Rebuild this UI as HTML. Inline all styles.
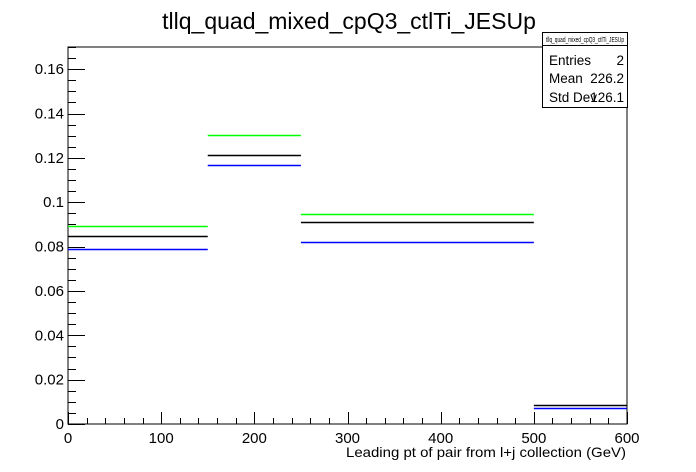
<!DOCTYPE html>
<html><head><meta charset="utf-8"><style>
body{margin:0;background:#fff;}
svg{display:block;font-family:"Liberation Sans",sans-serif;}
</style></head><body>
<svg id="c" width="696" height="472">
<text x="349" y="29" font-size="23" text-anchor="middle">tllq_quad_mixed_cpQ3_ctlTi_JESUp</text>
<rect x="68" y="47" width="559" height="377" fill="none" stroke="#000" stroke-width="1"/>
<g id="axes"></g>
<g id="series"></g>
<text x="346" y="457" font-size="14" textLength="280" lengthAdjust="spacingAndGlyphs">Leading pt of pair from l+j collection (GeV)</text>
<g>
<rect x="542.5" y="32.5" width="85" height="75" fill="#fff" stroke="#000"/>
<line x1="542.5" y1="45.5" x2="627.5" y2="45.5" stroke="#000"/>
<text x="546" y="42" font-size="7" textLength="78" lengthAdjust="spacingAndGlyphs">tllq_quad_mixed_cpQ3_ctlTi_JESUp</text>
<text x="549" y="65" font-size="13.5">Entries</text><text x="624" y="65" font-size="13.5" text-anchor="end">2</text>
<text x="549" y="83" font-size="13.5">Mean</text><text x="624" y="83" font-size="13.5" text-anchor="end">226.2</text>
<text x="549" y="102" font-size="13.5">Std Dev</text><text x="624" y="102" font-size="13.5" text-anchor="end">126.1</text>
</g>
</svg>
<script>
const binEdges=[0,150,250,500,600];
const greenVals=[0.0891,0.1305,0.0945,null];
const blackVals=[0.0850,0.1212,0.0909,0.0086];
const blueVals=[0.0788,0.1167,0.0819,0.0074];
const xTicks=[0,100,200,300,400,500,600];
const yTicks=[0,0.02,0.04,0.06,0.08,0.1,0.12,0.14,0.16];
const yLabels=["0","0.02","0.04","0.06","0.08","0.1","0.12","0.14","0.16"];
const X0=68,X1=627,Y0=424,Y1=47;
const xs=v=>X0+(v-0)/600*(X1-X0);
const ys=v=>Y0-v/0.17*(Y0-Y1);
const NS="http://www.w3.org/2000/svg";
const ax=document.getElementById('axes'),sr=document.getElementById('series');
function ln(p,x1,y1,x2,y2,c,w){const l=document.createElementNS(NS,'line');l.setAttribute('x1',x1);l.setAttribute('y1',y1);l.setAttribute('x2',x2);l.setAttribute('y2',y2);l.setAttribute('stroke',c);l.setAttribute('stroke-width',w||1);p.appendChild(l);return l;}
function tx(p,x,y,s,a){const t=document.createElementNS(NS,'text');t.setAttribute('x',x);t.setAttribute('y',y);t.setAttribute('font-size',15);t.setAttribute('text-anchor',a);t.textContent=s;p.appendChild(t);return t;}
for(let v=0;v<=0.17+1e-9;v+=0.005){const y=Math.round(ys(v))+0.5;const maj=Math.abs(v/0.02-Math.round(v/0.02))<1e-6;const l=ln(ax,X0,y,X0+(maj?17:8),y,'#000');

}
yTicks.forEach((v,i)=>{const t=tx(ax,X0-4,ys(v)+5,yLabels[i],'end');

});
for(let v=0;v<=600;v+=20){const x=Math.round(xs(v))+0.5;const maj=v%100===0;const l=ln(ax,x,Y0,x,Y0-(maj?12:6),'#000');

}
xTicks.forEach(v=>{const t=tx(ax,xs(v),Y0+19,String(v),'middle');

});
[[greenVals,'#00ff00','green'],[blackVals,'#000','black'],[blueVals,'#0000ff','blue']].forEach(([arr,c,n])=>{
arr.forEach((v,i)=>{if(v==null)return;const y=Math.round(ys(v))+0.5;const l=ln(sr,xs(binEdges[i]),y,xs(binEdges[i+1]),y,c,1.5);

});});
</script>
</body></html>
